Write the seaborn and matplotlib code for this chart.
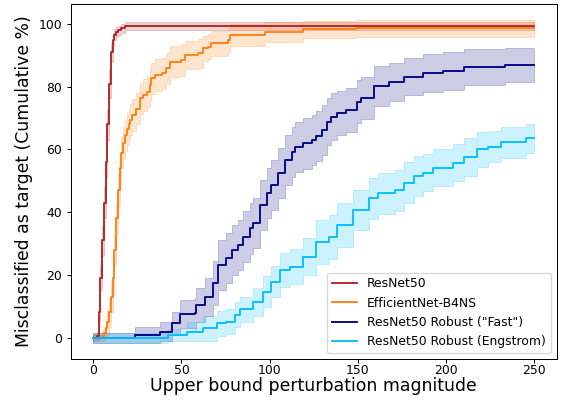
import numpy as np
import pandas as pd
import matplotlib
matplotlib.use("Agg")
import matplotlib.pyplot as plt
import seaborn as sns

# ---------------- data ----------------
LABELS = ["ResNet50", "EfficientNet-B4NS", 'ResNet50 Robust ("Fast")', "ResNet50 Robust (Engstrom)"]
COLORS = ["firebrick", "#ff7f0e", "navy", "deepskyblue"]

X_R = [0, 1, 2, 3, 4, 5, 6, 7, 8, 9, 10, 11, 12, 13, 14, 16, 18, 250]
Y_R = [0, 0, 0.5, 8, 19, 31, 43, 56, 68, 81, 91, 95, 96.6, 97.5, 98, 98.6, 99.3, 99.3]
SD_R = [0.8, 0.8, 1.2, 3, 4, 5, 5, 5, 5, 4.5, 3, 2, 1.8, 1.6, 1.5, 1.4, 1.3, 1.3]

X_O = [0, 5, 6, 7, 8, 9, 10, 11, 12, 13, 14, 15, 16, 17, 18, 19, 20, 21, 22, 24,
       26.5, 28.5, 30.5, 32, 33, 35, 39, 41, 43.5, 50, 52, 59.5, 62.5, 65, 67, 76.5,
       77.5, 97.5, 119, 149, 250]
Y_O = [0, 0.5, 1.5, 3, 5, 8, 13, 19, 28, 38, 47, 54, 59, 62, 64.5, 66.5, 68, 69.5, 71, 73,
       76.3, 77.4, 78.4, 80.5, 82.7, 83.7, 84.3, 85.9, 88, 88.5, 90.1, 90.6, 92.2, 92.8, 93.8, 94.9,
       96.6, 97.6, 98.3, 98.6, 98.6]
SD_O = [1, 1.5, 2, 3, 4, 4.5, 5, 5, 5, 5, 5, 5, 5, 5, 5, 5, 5, 5, 5, 5,
        5, 5, 5, 5, 5, 5, 5, 5, 5, 5, 4.5, 4.5, 4, 4, 4, 3.8, 3.5, 3.2, 2.8, 2.8, 2.8]

X_N = [0, 23.5, 38, 44.5, 49, 57.5, 58.5, 63.5, 68, 71, 75.5, 78.5, 82, 85, 89, 90.5, 94.5, 98.5, 101, 105,
       108.5, 112.5, 114.5, 119, 124, 126.5, 129.5, 132.5, 135, 138, 143.5, 149.5, 152, 159, 168, 176,
       187, 198.5, 210.5, 233.5, 250]
Y_N = [0, 0.8, 1.9, 4.5, 7.5, 7.7, 10.4, 13, 17.3, 23.1, 25.3, 27.9, 29.5, 32.2, 34.8, 36.4, 42.3, 46, 48.6, 52.4,
       56.5, 59.3, 60.9, 61.9, 63, 64.3, 66.2, 68.8, 70.4, 71.5, 72.6, 75.2, 76.3, 80.2, 81.6, 83.2,
       84.3, 85.1, 86.2, 86.9, 86.9]
SD_N = [1.6, 2.5, 3, 3.7, 4.5, 5, 5.5, 6, 7, 8, 8, 8, 8, 8, 8, 8, 8, 8, 8, 8,
        8, 8, 8, 8, 8, 8, 8, 7.5, 7.5, 7, 7, 6.8, 6.7, 6.5, 6, 6, 6, 6, 5.8, 5.5, 5.5]

X_C = [0, 42.5, 53, 62.5, 70, 75.5, 80.5, 83, 90.5, 96.5, 101, 106, 111.5, 119, 126.5, 134, 138, 147.5,
       156.5, 161.5, 171, 176.5, 182, 187, 193, 204, 210.5, 217.5, 224, 231.5, 245.5, 250]
Y_C = [0, 0.8, 1.9, 2.9, 4.5, 5, 7.2, 9, 11.4, 14.6, 17.8, 21.5, 22.6, 25.8, 30.6, 32.2, 35.9, 40.7,
       44.4, 46, 47, 49.4, 51.5, 52.6, 54.2, 55.8, 57.5, 60, 60.9, 62.3, 63.5, 63.5]
SD_C = [1.6, 2, 3, 4, 4, 4, 4, 4, 4.5, 5, 5, 5.5, 5.5, 6, 7, 7, 7, 6.5,
        6.5, 6.5, 6.5, 6.5, 6.5, 6, 6, 6, 6, 5.5, 5, 5, 4.5, 4.5]

XTICKS = [0, 50, 100, 150, 200, 250]
YTICKS = [0, 20, 40, 60, 80, 100]

# ---------------- plot ----------------
DPI = 89
fig, ax = plt.subplots(figsize=(570 / DPI, 404 / DPI), dpi=DPI)
fig.subplots_adjust(left=0.124, right=0.977, bottom=0.111, top=0.991)

series = [(X_R, Y_R, SD_R), (X_O, Y_O, SD_O), (X_N, Y_N, SD_N), (X_C, Y_C, SD_C)]
for (xs, ys, sds), lab, col in zip(series, LABELS, COLORS):
    df = pd.DataFrame({"x": xs, "y": ys, "sd": sds})
    ax.fill_between(df["x"], df["y"] - df["sd"], df["y"] + df["sd"],
                    step="post", color=col, alpha=0.2, linewidth=0.8)
    sns.lineplot(data=df, x="x", y="y", color=col, label=lab,
                 drawstyle="steps-post", linewidth=1.5, ax=ax)

ax.set_xlim(-12.8, 263)
ax.set_ylim(-6.9, 106.5)
ax.set_xticks(XTICKS)
ax.set_yticks(YTICKS)
ax.tick_params(labelsize=10)
ax.tick_params(axis="x", pad=0.8)
ax.set_xlabel("Upper bound perturbation magnitude", fontsize=14, labelpad=0)
ax.set_ylabel("Misclassified as target (Cumulative %)", fontsize=14)
ax.legend(loc="lower right", fontsize=10)

fig.savefig("out.png", dpi=DPI)
